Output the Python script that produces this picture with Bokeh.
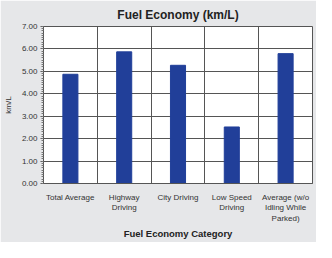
from bokeh.plotting import figure
from bokeh.models import FixedTicker, NumeralTickFormatter, Range1d
from bokeh.embed import file_html
from bokeh.resources import INLINE

categories = ["Total Average", "Highway\nDriving", "City Driving", "Low Speed\nDriving", "Average (w/o\nIdling While\nParked)"]
values = [4.87, 5.87, 5.27, 2.52, 5.79]
y_ticks = [0, 1, 2, 3, 4, 5, 6, 7]

xs = [i + 0.5 for i in range(len(categories))]

BG = "#e6e7e9"
FONT = "Liberation Sans"

p = figure(width=316, height=242, output_backend="svg", toolbar_location=None,
           x_range=Range1d(0, len(categories)), y_range=Range1d(0, 7),
           background_fill_color="white", border_fill_color=BG,
           min_border_left=40, min_border_right=4, min_border_top=26, min_border_bottom=48)

p.vbar(x=xs, top=values, width=0.28, color="#213f99")

p.title.text = "Fuel Economy (km/L)"
p.title.align = "center"
p.title.text_font = FONT
p.title.text_font_size = "12px"
p.title.text_font_style = "bold"
p.title.text_color = "#222222"

p.outline_line_color = "#555555"
p.outline_line_width = 1

# y axis
p.yaxis.ticker = FixedTicker(ticks=y_ticks, minor_ticks=[i / 10 for i in range(71)])
p.yaxis.formatter = NumeralTickFormatter(format="0.00")
p.yaxis.axis_label = "km/L"
p.yaxis.axis_label_text_font = FONT
p.yaxis.axis_label_text_font_size = "8px"
p.yaxis.axis_label_text_font_style = "normal"
p.yaxis.axis_label_text_color = "#333333"
p.yaxis.axis_label_standoff = 6
p.yaxis.major_label_text_font = FONT
p.yaxis.major_label_text_font_size = "8px"
p.yaxis.major_label_text_color = "#333333"
p.yaxis.major_tick_out = 3
p.yaxis.major_tick_in = 0
p.yaxis.minor_tick_out = 2
p.yaxis.minor_tick_in = 0
p.yaxis.axis_line_color = "#555555"
p.yaxis.major_tick_line_color = "#555555"
p.yaxis.minor_tick_line_color = "#777777"
p.yaxis.major_label_standoff = 3

# x axis
p.xaxis.ticker = FixedTicker(ticks=xs)
p.xaxis.major_label_overrides = {x: c for x, c in zip(xs, categories)}
p.xaxis.axis_label = "Fuel Economy Category"
p.xaxis.axis_label_text_font = FONT
p.xaxis.axis_label_text_font_size = "9.5px"
p.xaxis.axis_label_text_font_style = "bold"
p.xaxis.axis_label_text_color = "#222222"
p.xaxis.axis_label_standoff = 2
p.xaxis.major_label_text_font = FONT
p.xaxis.major_label_text_font_size = "8px"
p.xaxis.major_label_text_color = "#333333"
p.xaxis.major_label_standoff = 3
p.xaxis.major_tick_line_color = None
p.xaxis.minor_tick_line_color = None
p.xaxis.axis_line_color = "#555555"

# grid
p.xgrid.ticker = FixedTicker(ticks=[1, 2, 3, 4])
p.xgrid.grid_line_color = "#555555"
p.xgrid.grid_line_width = 1
p.ygrid.ticker = FixedTicker(ticks=y_ticks)
p.ygrid.grid_line_color = "#555555"
p.ygrid.grid_line_width = 1

open("out.html", "w").write(file_html(p, INLINE))
